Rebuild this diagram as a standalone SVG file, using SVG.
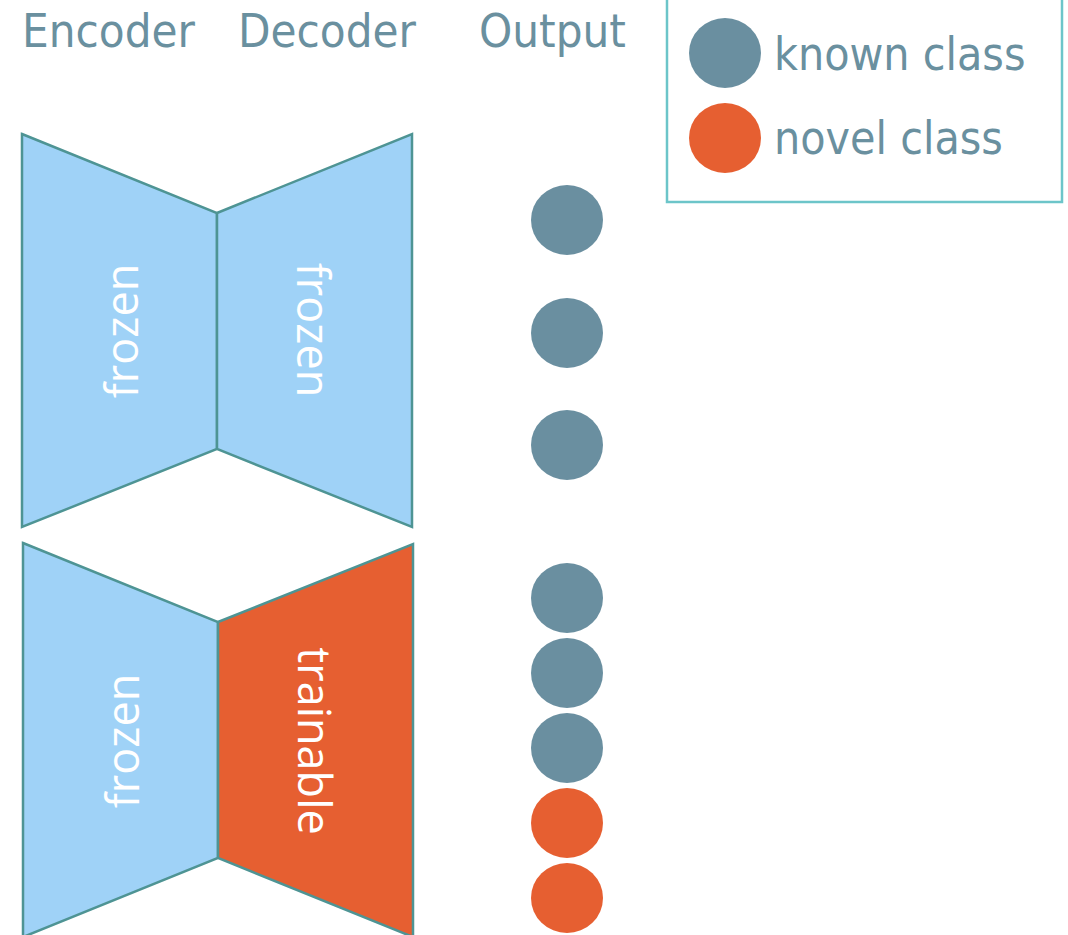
<svg xmlns="http://www.w3.org/2000/svg" width="1068" height="935" viewBox="0 0 1068 935">
  <style>
    .hdr { font-family: "DejaVu Sans", sans-serif; font-stretch: condensed; font-size: 47px; fill: #6a909f; }
    .leg { font-family: "DejaVu Sans", sans-serif; font-stretch: condensed; font-size: 46px; fill: #6a909f; }
    .blk { stroke: #4e9494; stroke-width: 2.5; stroke-linejoin: miter; }
    .frozen { fill: #9fd2f7; }
    .train { fill: #e65f31; }
    .lbl { font-family: "Open Sans", sans-serif; font-size: 45px; fill: #ffffff; text-anchor: middle; dominant-baseline: central; }
    .known { fill: #6a8fa0; }
    .novel { fill: #e65f31; }
  </style>

  <rect width="1068" height="935" fill="#ffffff"/>

  <!-- column headers -->
  <text class="hdr" x="22" y="47">Encoder</text>
  <text class="hdr" x="238" y="47">Decoder</text>
  <text class="hdr" x="479" y="47">Output</text>

  <!-- legend -->
  <g id="legend">
    <rect x="667" y="-10" width="395" height="212" fill="none" stroke="#6cc5c9" stroke-width="2.5"/>
    <ellipse class="known" cx="725" cy="53" rx="36" ry="35"/>
    <ellipse class="novel" cx="725" cy="138" rx="36" ry="35"/>
    <text class="leg" x="774" y="70">known class</text>
    <text class="leg" x="774" y="154">novel class</text>
  </g>

  <!-- first model: frozen encoder + frozen decoder -->
  <g id="enc1">
    <polygon class="blk frozen" points="22,134 217,213 217,449 22,527"/>
    <text class="lbl" transform="translate(120,331) rotate(-90)">frozen</text>
  </g>
  <g id="dec1">
    <polygon class="blk frozen" points="217,213 412,134 412,527 217,449"/>
    <text class="lbl" transform="translate(314,330) rotate(90)">frozen</text>
  </g>

  <!-- second model: frozen encoder + trainable decoder -->
  <g id="enc2">
    <polygon class="blk frozen" points="23,543 218,622 218,858 23,937"/>
    <text class="lbl" transform="translate(121,741) rotate(-90)">frozen</text>
  </g>
  <g id="dec2">
    <polygon class="blk train" points="218,622 413,544 413,937 218,858"/>
    <text class="lbl" transform="translate(315,741) rotate(90)">trainable</text>
  </g>

  <!-- outputs of first model -->
  <g id="out1">
    <ellipse class="known" cx="567" cy="220" rx="36" ry="35"/>
    <ellipse class="known" cx="567" cy="333" rx="36" ry="35"/>
    <ellipse class="known" cx="567" cy="445" rx="36" ry="35"/>
  </g>

  <!-- outputs of second model -->
  <g id="out2">
    <ellipse class="known" cx="567" cy="598" rx="36" ry="35"/>
    <ellipse class="known" cx="567" cy="673" rx="36" ry="35"/>
    <ellipse class="known" cx="567" cy="748" rx="36" ry="35"/>
    <ellipse class="novel" cx="567" cy="823" rx="36" ry="35"/>
    <ellipse class="novel" cx="567" cy="898" rx="36" ry="35"/>
  </g>

  <g id="connectors"/>
</svg>
